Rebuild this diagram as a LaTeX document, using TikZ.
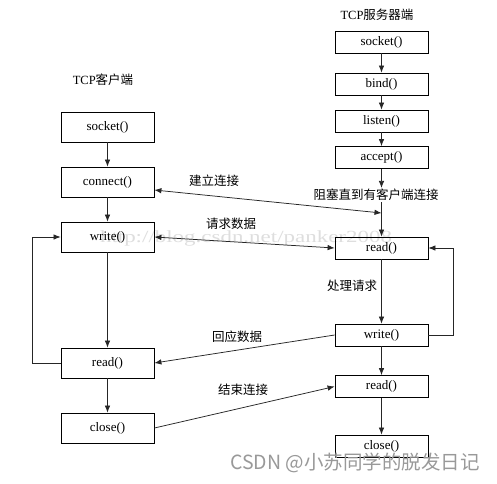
\documentclass[tikz,border=0pt]{standalone}
\usepackage{fontspec}
\setmainfont{Liberation Serif}
\newfontfamily\cjk{Noto Sans CJK SC}
\newfontfamily\urlfont[FakeStretch=1.35]{Liberation Serif}
\newfontfamily\wmfont{Noto Sans CJK SC}
\usetikzlibrary{arrows.meta}
\begin{document}
\begin{tikzpicture}[x=1pt,y=-1pt,
  fbox/.style={draw=black,line width=0.8pt,minimum width=93pt,inner sep=0pt,font=\fontsize{13}{15}\selectfont},
  cbox/.style={fbox,minimum height=30pt},
  sbox/.style={fbox,minimum height=22pt},
  lbl/.style={inner sep=1pt,font=\cjk\fontsize{12.5}{14}\selectfont},
  ttl/.style={inner sep=1pt,font=\fontsize{12.5}{14}\selectfont},
  conn/.style={draw=black!85,line width=0.75pt,-{Latex[length=7pt,width=5.5pt]}},
  dconn/.style={draw=black!85,line width=0.75pt,{Latex[length=7pt,width=5.5pt]}-{Latex[length=7pt,width=5.5pt]}}
]
\useasboundingbox (0,0) rectangle (497,483);
\fill[white] (0,0) rectangle (497,483);

% watermark URL
\node[inner sep=0pt,text=black!13,font=\urlfont\fontsize{17}{18}\selectfont] (url) at (246,238) {http://blog.csdn.net/panker2008};

% titles
\node[ttl] (tc) at (103,80) {TCP{\cjk 客户端}};
\node[ttl] (ts) at (377,15) {TCP{\cjk 服务器端}};

% client boxes
\node[cbox] (cs) at (107.5,127) {socket()};
\node[cbox] (cc) at (107.5,182) {connect()};
\node[cbox] (cw) at (107.5,237) {write()};
\node[cbox] (cr) at (107.5,363) {read()};
\node[cbox] (ccl) at (107.5,428) {close()};

% server boxes
\node[sbox] (ss) at (381.5,42) {socket()};
\node[sbox] (sb) at (381.5,84) {bind()};
\node[sbox] (sl) at (381.5,121) {listen()};
\node[sbox] (sa) at (381.5,157.5) {accept()};
\node[lbl,fill=white] (blk) at (376,195) {阻塞直到有客户端连接};
\node[sbox] (sr) at (381.5,248) {read()};
\node[sbox] (sw) at (381.5,335) {write()};
\node[sbox] (sr2) at (381.5,386.5) {read()};
\node[sbox] (scl) at (381.5,446) {close()};

\coordinate (jc) at (381.5,213);

% client arrows
\draw[conn] (cs) -- (cc);
\draw[conn] (cc) -- (cw);
\draw[conn] (cw) -- (cr);
\draw[conn] (cr) -- (ccl);
\draw[conn] (cr.west) -- ++(-28,0) |- (cw.west);

% server arrows
\draw[conn] (ss) -- (sb);
\draw[conn] (sb) -- (sl);
\draw[conn] (sl) -- (sa);
\draw[conn] (sa.south) -- (sa.south |- blk.north);
\draw[conn] (sa.south |- blk.south) -- (sr.north);
\draw[conn] (sr) -- (sw);
\draw[conn] (sw) -- (sr2);
\draw[conn] (sr2) -- (scl);
\draw[conn] (sw.east) -- ++(25,0) |- (sr.east);

% cross arrows
\draw[dconn] ([yshift=-8pt]cc.east) -- (jc);
\draw[dconn] (cw.east) -- (sr.west);
\draw[conn] (sw.west) -- (cr.east);
\draw[conn] (ccl.east) -- (sr2.west);

% labels
\node[lbl] (l1) at (214,181) {建立连接};
\node[lbl] (l2) at (231,224) {请求数据};
\node[lbl] (l3) at (352,286) {处理请求};
\node[lbl] (l4) at (237,337) {回应数据};
\node[lbl] (l5) at (243,390) {结束连接};

% CSDN watermark
\node[inner sep=0pt,text=black!40,font=\wmfont\fontsize{19.5}{21}\selectfont] (csdn) at (355,463) {CSDN @小苏同学的脱发日记};
\end{tikzpicture}
\end{document}
